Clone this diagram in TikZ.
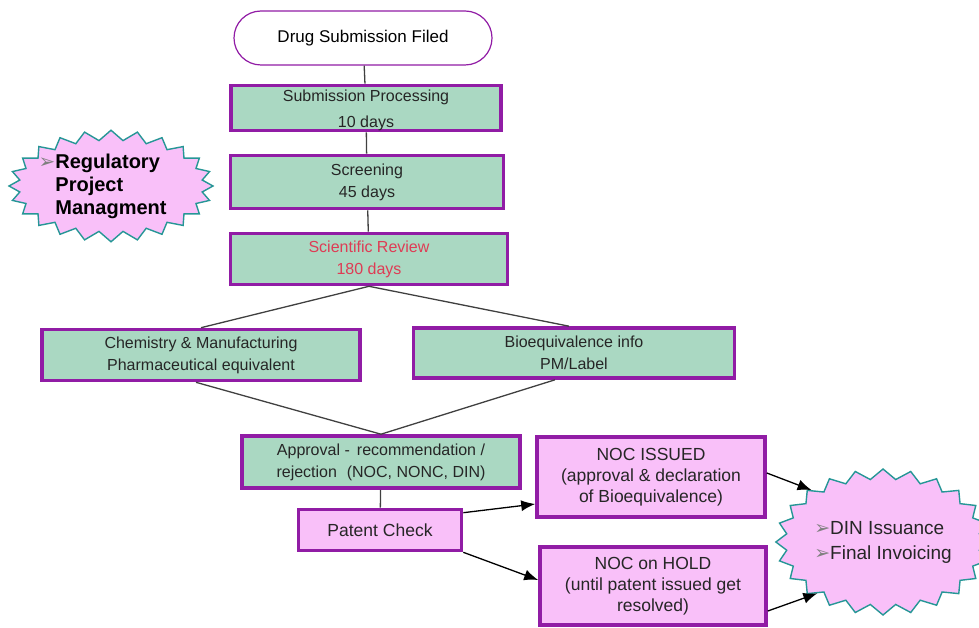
\documentclass[tikz,border=0pt]{standalone}
\usepackage{fontspec}
\setmainfont{Liberation Sans}
\newfontfamily\bulletfont{DejaVu Sans}
\usetikzlibrary{shapes,shapes.symbols,arrows.meta,positioning}

\definecolor{boxpurple}{RGB}{145,28,165}
\definecolor{boxgreen}{RGB}{170,216,194}
\definecolor{boxpink}{RGB}{249,192,249}
\definecolor{burstteal}{RGB}{38,150,150}
\definecolor{reviewred}{RGB}{222,60,85}
\definecolor{linegray}{RGB}{64,64,64}

\newcommand{\bul}{{\bulletfont\color{gray}\char"27A2}}

\begin{document}
\begin{tikzpicture}[x=1pt, y=-1pt,
   greenbox/.style={draw=boxpurple, line width=3.6pt, fill=boxgreen, align=center, inner sep=0pt,
                    font=\fontsize{16}{22}\selectfont, text=black!85},
   pinkbox/.style={greenbox, fill=boxpink, font=\fontsize{17.5}{21}\selectfont},
   burst/.style={starburst, starburst points=24, starburst point height=10pt, random starburst=0,
                 draw=burstteal, line width=1.4pt, fill=boxpink, align=left, inner sep=0pt},
   conn/.style={draw=linegray, line width=1.3pt},
   arr/.style={conn, -{Latex[length=14pt,width=11pt]}, draw=black}]
 \useasboundingbox (0,0) rectangle (979,628);

 %start
 \node[draw=boxpurple, line width=1.2pt, fill=white, rounded corners=27pt,
       minimum width=258pt, minimum height=54pt, font=\fontsize{17}{20}\selectfont]
       (filed) at (363,38) {Drug Submission Filed};

 %review chain
 \node[greenbox, minimum width=270pt, minimum height=42pt] (proc) at (366,108) {\\[-6pt]Submission Processing\\[4pt]10 days};
 \node[greenbox, minimum width=273pt, minimum height=53pt] (screen) at (367,182) {Screening\\45 days};
 \node[greenbox, minimum width=277pt, minimum height=51pt, text=reviewred] (review) at (369,259) {Scientific Review\\180 days};

 %level 2
 \node[greenbox, minimum width=318pt, minimum height=51pt] (chem) at (201,355) {Chemistry \& Manufacturing\\Pharmaceutical equivalent};
 \node[greenbox, minimum width=321pt, minimum height=50pt] (bio) at (574,353) {Bioequivalence info\\PM/Label};

 %decision
 \node[greenbox, minimum width=278pt, minimum height=52pt] (approval) at (381,462) {Approval -\, recommendation /\\rejection\,\, (NOC, NONC, DIN)};
 \node[pinkbox, minimum width=163pt, minimum height=41pt] (patent) at (380,530) {Patent Check};
 \node[pinkbox, minimum width=228pt, minimum height=80pt] (issued) at (651,477) {NOC ISSUED\\(approval \& declaration\\of Bioequivalence)};
 \node[pinkbox, minimum width=226pt, minimum height=78pt] (hold) at (653,586) {NOC on HOLD\\(until patent issued get\\resolved)};

 %bursts
 \node[burst, minimum width=204pt, minimum height=110pt, font=\bfseries\fontsize{20}{23}\selectfont]
       (rpm) at (111,186) {\llap{\bul}Regulatory\\Project\\Managment};
 \node[burst, minimum width=190pt, minimum height=146pt, font=\fontsize{19}{25}\selectfont, text=black!85]
       (din) at (883,542) {\bul DIN Issuance\\\bul Final Invoicing};

 %lines
 \foreach \a/\b in {filed/proc, proc/screen, screen/review, approval/patent}
   \draw[conn] (\a) -- (\b);
 \draw[conn] (review.south) -- (chem.north);
 \draw[conn] (review.south) -- ([xshift=-5pt]bio.north);
 \draw[conn] ([xshift=-5pt]chem.south) -- (approval.north);
 \draw[conn] ([xshift=-19pt]bio.south) -- (approval.north);

 %arrows
 \draw[arr] ([yshift=-5pt]patent.north east) -- ([yshift=-27pt]issued.west);
 \draw[arr] (patent.south east) -- ([yshift=6pt]hold.west);
 \draw[arr] ([yshift=4pt]issued.east) -- (din.144);
 \draw[arr] ([yshift=-25pt]hold.east) -- (din.218);

\end{tikzpicture}
\end{document}
